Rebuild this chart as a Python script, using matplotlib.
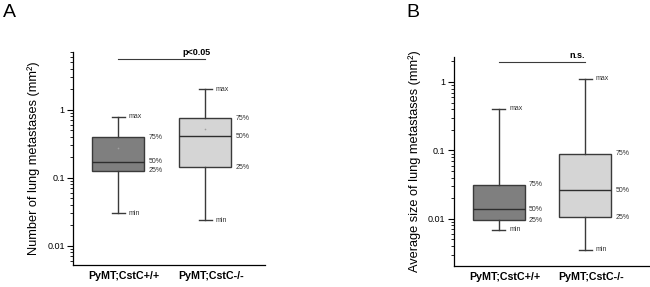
import matplotlib.pyplot as plt
import matplotlib.transforms as mtransforms
import numpy as np

plt.rcParams['font.family'] = ['Liberation Sans', 'DejaVu Sans']

groups = ['PyMT;CstC+/+', 'PyMT;CstC-/-']
box_colors = ['#7f7f7f', '#d5d5d5']

# panel A: number of lung metastases (mm2)
a_min = [0.030, 0.0235]
a_q1 = [0.126, 0.143]
a_med = [0.170, 0.405]
a_q3 = [0.39, 0.74]
a_max = [0.78, 2.0]
a_mean = [0.27, 0.52]

# panel B: average size of lung metastases (mm2)
b_min = [0.0069, 0.0035]
b_q1 = [0.0095, 0.0106]
b_med = [0.0139, 0.0262]
b_q3 = [0.0312, 0.090]
b_max = [0.405, 1.12]

fig = plt.figure(figsize=(6.5, 2.87), dpi=100)


def draw_panel(rect, letter, letter_xy, ylabel, mins, q1s, meds, q3s, maxs, ylim,
               ticks, ticklabels, sig_y, sig_text, means=None, xmax=2.69):
    ax = fig.add_axes(rect)
    stats = []
    for i in range(2):
        stats.append(dict(whislo=mins[i], q1=q1s[i], med=meds[i], q3=q3s[i],
                          whishi=maxs[i], fliers=[], label=groups[i]))
    bp = ax.bxp(stats, positions=[1, 2], widths=0.6, patch_artist=True,
                showfliers=False,
                boxprops=dict(edgecolor='#3a3a3a', linewidth=1.0),
                medianprops=dict(color='#2e2e2e', linewidth=1.0),
                whiskerprops=dict(color='#3a3a3a', linewidth=1.0),
                capprops=dict(color='#3a3a3a', linewidth=1.0),
                capwidths=0.15)
    for patch, c in zip(bp['boxes'], box_colors):
        patch.set_facecolor(c)

    if means is not None:
        ax.plot([1, 2], means, 'o', ms=1.2, color='#a0a0a0', mec='none')

    # labels next to boxes
    fs = 5
    for i in range(2):
        x = i + 1
        ax.text(x + 0.12, maxs[i], 'max', fontsize=fs, color='#333333', va='center')
        ax.text(x + 0.35, q3s[i], '75%', fontsize=fs, color='#333333', va='center')
        ax.text(x + 0.35, meds[i], '50%', fontsize=fs, color='#333333', va='center')
        ax.text(x + 0.35, q1s[i], '25%', fontsize=fs, color='#333333', va='center')
        ax.text(x + 0.12, mins[i], 'min', fontsize=fs, color='#333333', va='center')

    # significance bar
    ax.plot([1, 2], [sig_y, sig_y], color='#3a3a3a', lw=0.8)
    ax.text(1.9, sig_y * 1.08, sig_text, fontsize=6.5, fontweight='bold',
            ha='center', va='bottom')

    ax.set_yscale('log')
    ax.set_ylim(*ylim)
    ax.set_xlim(0.48, xmax)
    ax.set_yticks(ticks)
    ax.set_yticklabels(ticklabels)
    ax.tick_params(axis='y', which='major', length=4, width=0.8, labelsize=6.5, pad=2)
    ax.tick_params(axis='y', which='minor', length=2, width=0.6)
    ax.spines['top'].set_visible(False)
    ax.spines['right'].set_visible(False)
    ax.spines['left'].set_linewidth(0.9)
    ax.spines['bottom'].set_linewidth(0.9)
    ax.set_xticks([1, 2])
    ax.set_xticklabels(groups, fontsize=7.7, fontweight='bold')
    ax.tick_params(axis='x', length=0, pad=4)
    off = mtransforms.ScaledTranslation(6 / 100, 0, fig.dpi_scale_trans)
    for lab in ax.get_xticklabels():
        lab.set_transform(lab.get_transform() + off)
    ax.set_ylabel(ylabel, fontsize=9.2, labelpad=5)
    fig.text(letter_xy[0], letter_xy[1], letter, fontsize=14, va='top', ha='left')
    return ax


draw_panel([73 / 650, 22 / 287, 192 / 650, 213 / 287], 'A', (3 / 650, 0.985),
           'Number of lung metastases (mm²)',
           a_min, a_q1, a_med, a_q3, a_max, (0.0052, 7.0),
           [0.01, 0.1, 1], ['0.01', '0.1', '1'], 5.5, 'p<0.05', means=a_mean)

draw_panel([453.7 / 650, 21 / 287, 195 / 650, 209 / 287], 'B', (406 / 650, 0.985),
           'Average size of lung metastases (mm²)',
           b_min, b_q1, b_med, b_q3, b_max, (0.00204, 2.32),
           [0.01, 0.1, 1], ['0.01', '0.1', '1'], 1.96, 'n.s.', xmax=2.73)

fig.savefig('out.png', dpi=100)
